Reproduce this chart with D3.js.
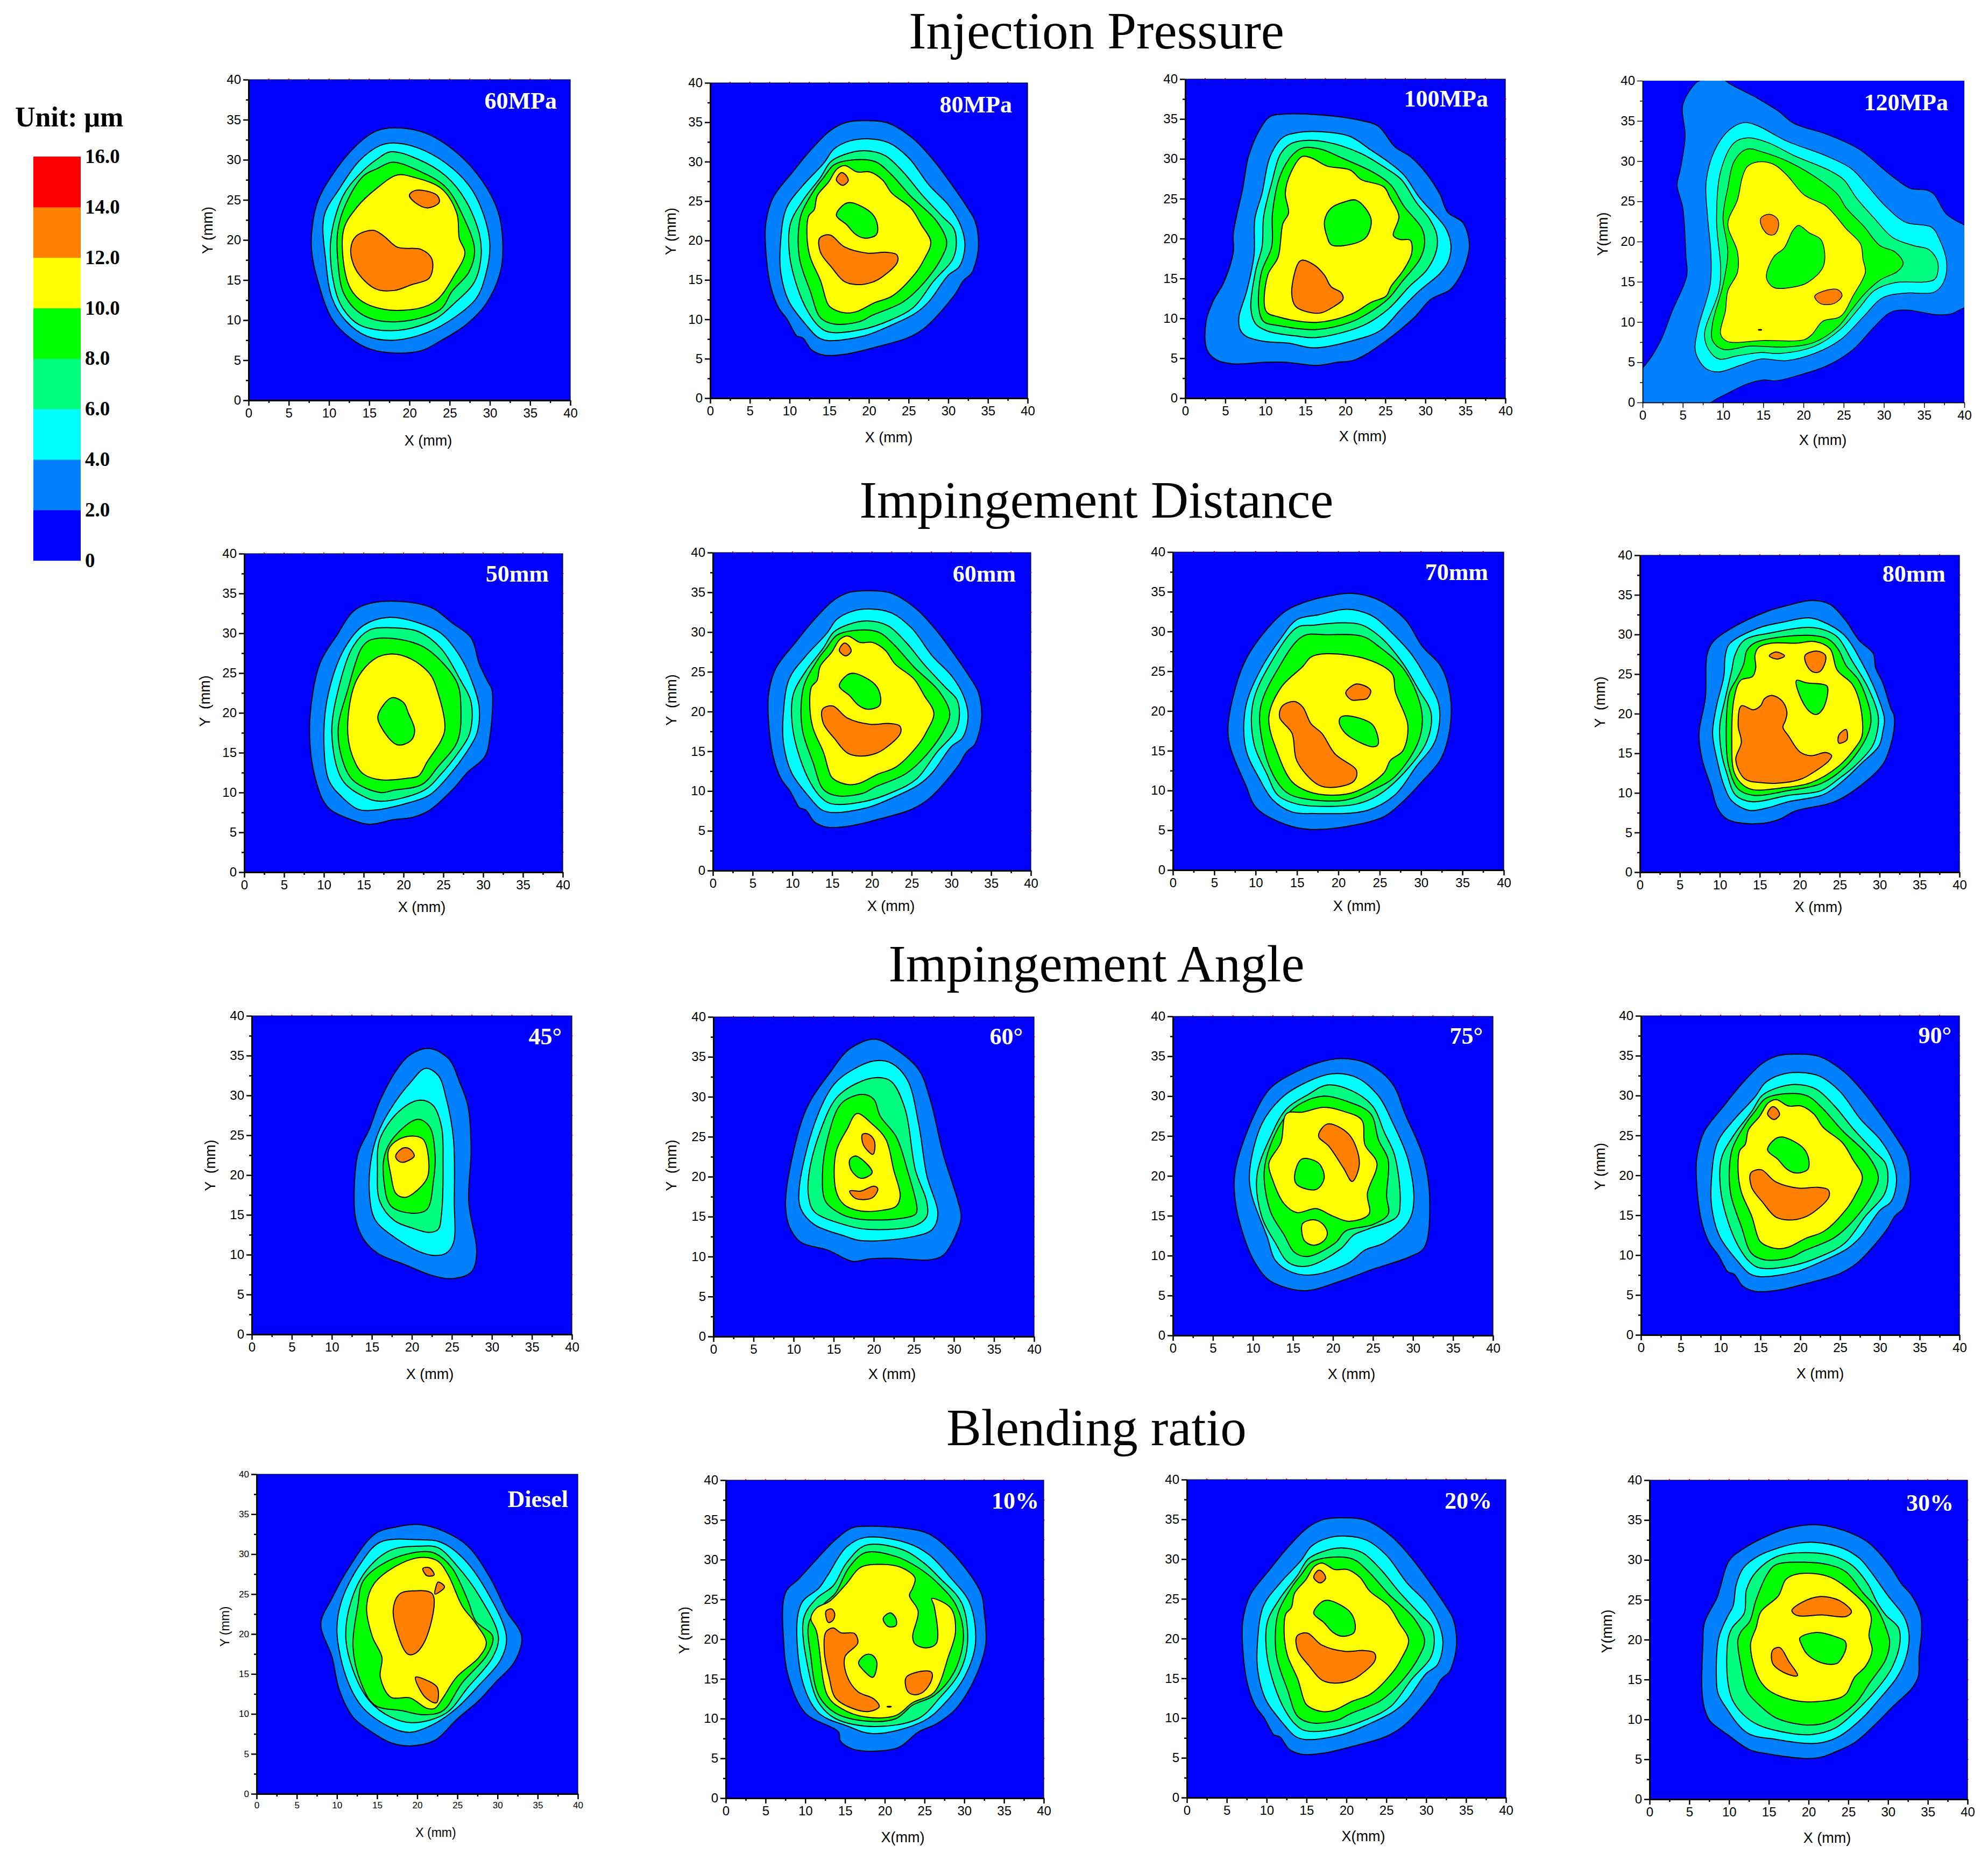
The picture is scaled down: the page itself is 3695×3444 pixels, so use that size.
<!DOCTYPE html>
<html><head><meta charset="utf-8">
<script src="https://cdn.jsdelivr.net/npm/d3@7/dist/d3.min.js"></script>
<style>html,body{margin:0;background:#fff}svg{display:block}text{white-space:pre}</style></head>
<body><div id="c"></div>
<script>
// ---------- Legend scale ----------
const legendLevels=[0,2,4,6,8,10,12,14,16];
const legendLabels=["0","2.0","4.0","6.0","8.0","10.0","12.0","14.0","16.0"];
const bandColors=["#0000ff","#0080ff","#00ffff","#00ff80","#00ff00","#ffff00","#ff8000","#ff0000"];
const groupTitles=["Injection Pressure","Impingement Distance","Impingement Angle","Blending ratio"];
const majorTicks=[0,5,10,15,20,25,30,35,40];
const minorTicks=[2.5,7.5,12.5,17.5,22.5,27.5,32.5,37.5];

// ---------- Contours: [level in µm, [[x mm, y mm], ...]] ----------
const c60MPa=[
[2,[[18.3,34],[22.3,33.2],[26.1,30.7],[29.1,27.3],[31,23.6],[31.6,19.8],[31.3,16],[29.5,12],[27,9.4],[24,7.5],[21.5,6.2],[18.1,5.9],[15.1,6.4],[12.6,7.8],[10.4,10.1],[8.7,14.6],[7.8,19.3],[8.5,24.5],[10.2,27.8],[13.4,31.8],[15.9,33.6]]],
[4,[[18.1,32.1],[21,31.5],[24.5,29.6],[27.4,26.8],[29.1,23.5],[30,19.3],[29.3,15],[28.3,12.7],[25.7,10.4],[22.3,8.5],[18.1,7.5],[14.7,8],[12.1,9.9],[10.4,12.7],[9.6,17.4],[9.4,23],[11.3,26.4],[13.8,29.9],[16.4,31.8]]],
[6,[[17.7,31],[21,30.1],[24.5,28],[27,24.9],[28.7,20.7],[28.9,17.9],[28.1,14.8],[25.7,12.2],[22.8,9.9],[18.1,8.7],[13.8,9.4],[11.7,11.5],[10.7,14.1],[10.2,19.8],[11.7,25.4],[13.8,28.2],[16,30.1]]],
[8,[[17.9,29.7],[21,28.7],[24.5,26.6],[26.6,23.1],[28.1,18.8],[27.4,16],[25.3,13.6],[23.8,11.3],[18.5,9.8],[14.3,10.6],[11.9,13.2],[11.1,17.4],[11.1,21.2],[12.1,24.5],[14.3,28],[16,28.9]]],
[10,[[18.5,28.1],[20.6,27.8],[24,26.4],[25.9,23.3],[26.2,20.2],[26.9,18.4],[25.7,15.8],[23,12.2],[18.5,11.2],[14.7,12],[13,13.4],[12.1,15.5],[11.8,21.2],[13.4,24],[16,26.5]]],
[12,[[12.7,18.8],[13.4,20.5],[15.5,21.2],[16.8,20.5],[18.5,19.1],[21.5,18.8],[22.8,17.6],[22.5,15.3],[20.2,14.4],[18.1,13.7],[15.8,13.9],[13.4,16.2]]],
[12,[[20,25.6],[20.8,26.2],[23.4,25.6],[23.7,24.7],[22.3,24],[20.8,24.6]]]];

const c80MPa=[
[2,[[19.4,35.2],[22.4,34.9],[25.6,32.9],[28.2,30.1],[30.5,27],[32.4,24.2],[33.4,22.4],[33.8,19.2],[33.2,16.4],[32.9,15.8],[31.9,14.9],[30.8,13.1],[27.2,9.05],[25,7.7],[21,6.5],[17.2,5.6],[14.4,5.45],[12.8,6.1],[11.7,7.6],[10.9,7.9],[10.4,8.7],[9.7,10],[8.6,11.5],[7.6,14.3],[7,18.9],[7,22.1],[7.9,25.4],[10.4,28.7],[12.6,31.4],[15.2,34],[17.2,35]]],
[4,[[19.9,32.9],[22.5,32.4],[25,30.5],[27.6,27],[30.1,24.4],[31.6,21.8],[32.1,19.3],[31.4,16.7],[30,15.6],[27.6,12.3],[25.9,10.8],[22.7,9.2],[19.4,7.9],[14.9,7.3],[13.6,7.7],[12,9.4],[9.9,12.3],[8.9,15.9],[8.85,19.5],[9.6,24.1],[11.7,27],[14.3,29.8],[15.6,31.6],[17.5,32.6]]],
[6,[[19.4,31.4],[22,30.8],[24.3,28.7],[26.6,25.9],[29.2,23.1],[30.7,21.5],[31,19.3],[30.5,17.5],[28.2,14.9],[25.6,11.5],[22.7,9.9],[19.1,8.7],[14.9,8.4],[13.6,9.2],[12.3,11],[11,14],[10,18.2],[10.1,22.1],[11.7,25.1],[13.9,28],[15.2,30],[16.9,30.9]]],
[8,[[17.8,30.2],[20.8,30],[22.7,28.5],[25.3,25.6],[28.5,22.5],[29.8,19.8],[29.2,17.9],[26.9,14.6],[24.3,12.2],[20.4,10.5],[18.8,9.7],[15.6,9.4],[13.9,10.2],[12.6,13.6],[11.3,17.5],[11.1,20.8],[11.5,23.4],[13.3,26.7],[14.3,28],[15.6,29.6]]],
[10,[[17,29.5],[18.5,28.7],[20.1,28.7],[21.7,27.7],[22.9,26],[25.3,24.1],[26.6,22],[27.8,19.8],[26.9,17.5],[25.9,15.9],[23,13],[20.7,12.1],[18.5,11],[17.2,10.8],[15.7,11.2],[14.9,11.8],[13.9,14.9],[12.6,17.9],[12.2,20.5],[12.4,23.1],[13.1,23.9],[13.5,25.7],[14.9,27.4],[16,29.1]]],
[8,[[15.9,23.2],[16.9,24.6],[17.8,24.8],[20.4,23.4],[21.1,21.8],[20.9,20.7],[19.4,20.3],[18.3,20.8],[17.2,22]]],
[12,[[13.8,20.3],[15.1,20.7],[16.9,19.2],[19.8,18.4],[22.2,18.5],[23.5,18.2],[23.6,17.3],[21.7,15.4],[20.4,14.7],[18.5,14.4],[16.9,14.8],[15.3,16.6],[13.9,18.5]]],
[12,[[15.9,27.7],[16.5,28.6],[17,28.4],[17.4,27.6],[16.7,27]]]];

const c100MPa=[
[2,[[12.2,35.6],[17,35.5],[21.5,34.9],[24.1,34.1],[26.2,31.5],[28.1,30.3],[30.1,28.2],[31.8,25.6],[32.8,23.3],[34.7,22],[35.5,19.3],[35.2,17.4],[34.4,15.4],[33.1,13.6],[30.7,12.4],[28.6,10.1],[25.1,7.2],[21.2,4.8],[19,4.5],[16.4,4.1],[12.5,4.5],[10,4.5],[6.1,4.3],[3.9,4.8],[2.7,6.1],[2.6,9.6],[3.5,12.2],[4.8,14.5],[6,18.3],[6,20.6],[7.2,26.4],[7.9,30.3],[9.5,34],[10.6,35.3]]],
[4,[[17,33.4],[20.6,32.8],[23.2,31.1],[25.4,29.6],[27.3,28],[29.3,25.1],[31.2,23],[32.6,21.2],[33.2,19.1],[32.8,17],[31.8,15.6],[29.3,13.5],[27,11.2],[24.4,8.5],[20.9,7.2],[16.1,6.3],[12.9,6.9],[10,7.1],[7.7,7.7],[6.9,8.5],[6.7,10.1],[7.7,13.5],[8.6,18],[8.7,22.5],[9.6,25.7],[10.6,30.3],[12.2,32.7],[14.1,33.3]]],
[6,[[14.8,32.3],[17.7,32.1],[21.9,30.7],[25.1,28.8],[27,27.4],[28.9,24.5],[30.5,22.5],[31.4,20.6],[31.4,18.6],[30.2,16.1],[28,14],[25.4,11.2],[22.2,9.1],[16.4,7.6],[13.8,7.8],[10.3,8.4],[8.8,9.3],[8.2,11.2],[8.8,16],[9.6,19],[9.8,22.8],[10.8,27],[11.9,30.6],[13.2,31.9]]],
[8,[[14.8,31.4],[17,31.2],[19.6,30.1],[23.5,28.3],[25.7,26.7],[27.3,24.1],[29.6,21.2],[29.9,19.3],[29.3,17.4],[27,14.5],[25.4,12.5],[22.8,10.6],[20.6,9.5],[16.4,8.6],[11.6,9.1],[9.8,9.6],[9.2,11.2],[9.5,15.7],[10.8,19],[10.9,23.2],[11.9,28],[13.5,30.6]]],
[10,[[14.6,30.3],[15.8,30.1],[17.7,29.1],[20.6,28.6],[22,27.4],[24.8,26.5],[25.6,25.1],[26.7,22.8],[26,20.4],[26.8,19.9],[28.1,19.8],[28.3,18.2],[27.3,16.1],[25.7,14],[25.1,12.8],[23.2,12],[20.9,10.6],[16.4,9.5],[11.6,10.2],[10.1,10.9],[10.3,15.4],[11.6,17.7],[12.2,21.9],[12.9,23.2],[12.5,25.7],[13.2,28.3]]],
[8,[[17.4,22.2],[18.2,23.8],[19.9,24.6],[21.4,24.8],[23.2,22.5],[22.7,20.3],[21.5,19.5],[18.3,19.2],[17.7,20.3]]],
[12,[[14.1,16.9],[14.6,17.3],[16.1,16.7],[17.4,15.4],[18.2,14],[19.5,13.2],[19.7,12.4],[18.6,11.5],[17,10.7],[15.8,10.7],[13.8,11.5],[13.3,13.2]]]];

const c120MPa=[
[2,[[0,4.3],[2.1,7.4],[3.7,11.4],[5.5,15.8],[5.4,18.1],[5,24.2],[4.3,27],[4.7,29],[5.3,33.1],[5,37],[6.6,39.7],[7.4,40.2],[8,41.5],[9.5,41.5],[10.1,40.2],[14.3,37.8],[16.9,36.2],[18.8,34.7],[23,33.3],[26.9,31.5],[30.8,28.3],[33.3,26.6],[35.3,26.4],[36.2,25.9],[37.8,23.4],[40.1,22],[42,21],[42,12],[40.1,11.8],[38.3,11],[36.6,10.9],[32.7,11.5],[30.8,11.2],[28.8,9.4],[26.2,6.6],[23,4.6],[19.8,3.5],[16.6,2.7],[15,2.8],[13,2.3],[10.5,1.1],[8.4,-0.1],[7,-2],[-2,-2],[-2,3]]],
[4,[[12.7,34.8],[14.3,34.4],[17.9,32.5],[22.7,30.7],[25.9,29.1],[27.9,27],[30.1,24.5],[32.7,22.4],[35.9,21.8],[36.9,20.3],[37.8,17.4],[37.4,14.9],[36.2,13.7],[32.7,13.6],[29.8,13],[27.5,10.7],[24.6,7.8],[21.4,6.1],[17.9,5.2],[14.7,5.4],[12.1,4.6],[9.5,3.8],[7.9,4.2],[6.6,6.2],[6.8,8.8],[8.4,14.6],[8.5,18.4],[8.1,22.9],[7.9,27.4],[8.9,31.2],[10.8,33.9]]],
[6,[[13,32.9],[15.6,32.3],[18.8,30.7],[23.3,28.8],[25,27.7],[26.6,25.4],[28.8,22.9],[31.1,20.5],[33.7,19.5],[35.6,19],[36.7,17.4],[36.4,15.4],[35.3,15],[31.4,14.9],[28.8,13.9],[26.9,11.7],[24.6,9.1],[21.4,7],[17.2,6.1],[14.7,6.2],[11.8,5.8],[9.5,5.4],[8.2,6.6],[7.7,8.5],[9.5,13.9],[9.7,16.8],[9.2,22.6],[9.7,28.7],[11.4,32.3]]],
[8,[[13,31.5],[15,31.1],[18.2,29.9],[22.4,27.4],[24.3,25.8],[25.3,24.2],[27.5,21.9],[29.5,19.5],[31.4,18.7],[32.4,17.3],[31.7,16.3],[29.5,15.2],[27.5,13.4],[25.9,11.4],[24.3,9.4],[21.4,7.5],[17.9,6.9],[13.4,7],[10,6.6],[8.7,7.7],[8.7,9.8],[10,14.6],[10.6,18.7],[10,22.9],[10.6,26.7],[11.4,30]]],
[10,[[14.3,29.9],[16.3,29.6],[17.9,28.3],[20.1,25.8],[22.7,24.5],[24,23.2],[25.3,21.6],[27.1,19.7],[27.4,17.8],[27.7,16.2],[26.2,13.3],[24.6,10.7],[22.4,10.1],[21.1,8.5],[20.1,7.8],[15,7.7],[10.5,7.6],[9.7,8.5],[10.3,11.4],[10.6,13.9],[11.8,16.2],[11.8,18.7],[10.6,22.2],[11.8,25.2],[12.4,28],[13,29.3]]],
[8,[[19.4,22],[20.7,21.1],[22.2,20.2],[22.5,17],[20.5,14.9],[18.5,14.3],[16.3,14.3],[15.4,15.5],[16.3,18.1],[17.6,19.2],[18.7,21.4]]],
[12,[[14.7,22.9],[15.7,23.4],[16.7,22.9],[16.9,21.9],[16.4,20.9],[15.6,20.9],[14.8,21.9]]],
[12,[[21.4,13.2],[22.7,13.9],[24.3,14],[24.8,13.3],[23.8,12.3],[22.1,12.3]]],
[12,[[14.4,9.05],[14.8,9.05],[14.8,9],[14.4,9]]]];

const c50mm=[
[2,[[17.4,34],[23.3,33.3],[26.1,31.3],[28.5,29.4],[29.5,26.2],[30.6,23.9],[31.1,22.9],[30.9,17.4],[30.2,14.5],[28.1,12.6],[26.1,10.3],[23.3,7.8],[21.2,6.9],[18.8,6.6],[15.7,6],[13.7,6.5],[10.9,7.8],[9.9,9],[8.8,12.3],[8.3,15.5],[8.3,20],[9.5,26.2],[11.6,29.7],[14,33]]],
[4,[[18.1,32],[21.9,31.3],[24.7,30],[27.1,27.1],[28.5,24.2],[29.5,20.7],[29.2,17.4],[27.8,14.9],[26.1,12.6],[23.3,9.7],[20.6,8.7],[16.4,7.8],[14.3,7.9],[12.3,9.4],[10.6,11.6],[10,17.4],[10.6,22.6],[12.6,28.1],[15,31]]],
[6,[[18.3,30.7],[21.9,30.2],[24.7,28.1],[27.1,24.2],[28.5,21.3],[28.3,17.4],[26.8,14.9],[24.7,12.3],[22.6,10.3],[17.1,8.9],[15,9.5],[12.3,11.6],[11,17.4],[11.9,23.3],[13.7,28.4],[15.7,30.4]]],
[8,[[18.1,29.4],[22.3,28.4],[25,26.2],[26.8,23.6],[27.2,20.7],[26.8,16.5],[24.3,13.2],[22.3,11],[18.8,10.3],[17.1,10],[13.7,11.5],[12.3,14.2],[11.8,18.1],[13,22.9],[14.7,28.1],[15.7,29.1]]],
[10,[[18.5,27.4],[20.9,26.8],[23.3,24.9],[24.3,22.6],[25.2,18.1],[24.7,16.5],[23,13.9],[21.9,12.1],[20.6,11.8],[17.1,11.6],[15,12.3],[14,13.6],[13,17.4],[14,23.9],[16.4,26.8]]],
[8,[[18.5,21.9],[20,21.3],[20.6,20],[21.4,17.8],[20.9,16.5],[19.2,16],[17.1,18.4],[16.8,19.7]]]];

const c70mm=[
[2,[[21.6,34.8],[24.8,34],[28.1,31.5],[30.1,28.2],[32.4,25.6],[33.5,22.1],[33.5,17.9],[32.4,14],[30.1,11.1],[27.5,8.3],[25.5,6.7],[22.2,5.7],[16.7,5.1],[13.7,5.7],[10.1,7.8],[8.8,10.7],[6.9,15.6],[6.7,18.5],[8.2,25],[9.8,28.2],[13.4,32.4],[15.7,33.6],[19,34.5]]],
[4,[[21.2,32.8],[24.2,31.9],[26.5,29.8],[28.8,27.2],[30.7,24],[32.2,20.5],[31.7,16.2],[29.4,13],[26.8,9.4],[23.5,7.5],[17,7.1],[14.4,7.3],[12.1,8.8],[10.5,11.4],[8.8,15.3],[8.8,20.5],[10.5,25],[13.1,29.2],[15,31.5],[17.6,32.1]]],
[6,[[20.6,31.1],[22.9,30.8],[25.2,29.2],[27.8,26],[29.7,22.7],[31.2,19.8],[30.7,16.2],[28.1,12.4],[24.8,9.4],[22.2,8.3],[18.3,8],[15,8.3],[12.7,9.4],[11.4,12],[9.8,15.9],[9.7,21.1],[11.8,26],[15,30.5],[17,30.8]]],
[8,[[18.6,29.6],[22.9,29.4],[24.8,28.2],[28.1,25],[30.1,19.8],[29.7,16.2],[26.8,11.7],[24.2,10.1],[20.9,8.8],[15.7,9],[13.7,9.8],[12.1,12],[10.8,16.2],[10.6,20.5],[12.7,25.3],[15.7,29.4]]],
[10,[[18.6,27.2],[23.5,26.5],[26.5,24.7],[26.9,22.4],[28.4,18.2],[27.8,15],[26.3,13.8],[25.5,12.2],[22.2,9.9],[19.3,9.4],[16.3,9.9],[14.4,11.1],[12.7,14.6],[11.6,19.2],[13.1,23],[15.7,25.6],[16.7,26.8]]],
[12,[[14.7,21.2],[15.7,20.5],[16.7,18.4],[18,17.2],[19.6,14.6],[22.2,12.5],[21.9,11.2],[19.6,10.4],[17.6,10.7],[15,13.7],[14.4,17.2],[12.9,19.2],[13.2,20.6]]],
[12,[[20.9,22.3],[22.2,23.4],[23.9,22.6],[23.5,21.6],[22.5,21.4],[21.6,21.4]]],
[8,[[20.4,19.3],[22.2,19.2],[24.2,18.2],[24.8,15.8],[24.2,15.5],[21.6,16.6],[20.6,17.5],[20.1,18.7]]]];

const c80mm=[
[2,[[21.5,34.3],[23.8,33.8],[25.8,31.7],[27.4,29.3],[29.2,27.6],[29.5,25.8],[30.4,23.9],[31.4,20.7],[31.8,19.8],[31.8,18],[31.1,15.1],[30.4,13.6],[28.1,11.3],[24.4,8.9],[19.4,7.7],[17.3,6.6],[14,6.1],[10.9,6.7],[9.7,8.1],[8.9,10.8],[7.8,14.2],[7.4,17.5],[8.2,22],[8.4,27.4],[9.1,29],[11.5,30.8],[15.9,32.9],[18.6,33.7]]],
[4,[[21.1,32.1],[22.7,31.7],[25.5,30],[27.7,26.6],[29.6,22.6],[30.6,19.4],[30.4,17.7],[29.9,15.9],[27.7,13.7],[25.5,11.6],[23,9.8],[18.6,8.9],[15.9,8.1],[13.7,7.8],[11.5,9],[10.5,11],[9.7,14],[9.1,17.5],[9.6,21],[10.5,24.7],[10.7,27.4],[11.2,28.8],[14.8,30.8],[18.1,31.6]]],
[6,[[21.1,30.9],[23.3,30.5],[24.8,29.6],[26.6,26.6],[28.5,23.4],[29.8,19.9],[29.8,18.3],[29.1,15.9],[26.9,13.4],[24.9,11.8],[22.7,10.3],[18.6,9.7],[14,8.9],[12,9.7],[10.9,12.4],[10.2,15.1],[10,18.5],[10.7,22],[11.5,25.5],[11.9,27.4],[13.1,29.3],[16.4,30.2]]],
[8,[[21.1,29.9],[23.6,29.4],[24.9,28],[25.8,26.1],[27.4,24.2],[28.8,20.4],[28.9,18.8],[28.2,16.7],[25.8,13.4],[22.7,11.2],[18.6,10.3],[14.2,9.7],[12.3,10.5],[11.1,13.4],[10.8,18],[11.2,22.6],[12.3,24.7],[13,26.3],[13.4,28],[14.5,29]]],
[10,[[16.4,28.9],[19.5,28.9],[21.9,29.1],[23.8,28.2],[24.7,25.5],[26.6,23.7],[27.6,21],[27.8,17.2],[27.1,15.9],[24.9,13.4],[21.4,11.3],[17.5,10.6],[14.2,10.4],[12.9,11],[11.8,12.6],[11.5,16.7],[11.8,22],[12.6,24.2],[14.1,24.7],[14.5,25.8],[14.4,27.4],[14.9,28.4]]],
[12,[[12.7,21],[14.2,20.5],[15.1,21],[15.6,21.9],[16.6,22.3],[17.8,21.6],[18.4,20.2],[18.2,19.1],[17.9,18.3],[18.6,17.2],[20,15.2],[21.4,14.7],[23.3,15.1],[24,14.7],[23.6,14],[21.4,12.4],[20.3,11.8],[18.1,11.3],[15.1,11.3],[13.1,11.8],[12,14.2],[12.7,16.4],[12.3,18.5]]],
[12,[[16.2,27.3],[17,27.8],[18.1,27.3],[17.2,26.9]]],
[12,[[20.7,27.4],[22.2,27.9],[23.2,27.4],[23.2,26.5],[22.5,25.3],[21.6,25.3],[20.8,26.3]]],
[12,[[24.9,17.3],[25.8,18],[25.9,16.7],[24.9,16.3]]],
[8,[[19.6,24.2],[20.8,23.9],[23.4,23.5],[23.5,22.6],[22.9,20.6],[22.1,19.9],[21.2,20.3],[20,22.3]]]];

const c45deg=[
[2,[[22.2,35.9],[24.6,34.6],[26,31.6],[27,28.7],[27.4,23.2],[27.1,16.7],[28.1,10.2],[27.4,7.8],[25,7],[22.2,7.5],[19.5,8.6],[15.7,10.2],[14,11.9],[13,14.4],[12.8,18],[13.3,22.8],[14.7,25.8],[16,29.3],[18.1,33.2],[19.8,35.1]]],
[4,[[21.7,33.4],[23.3,32.5],[24.3,29.6],[25.2,24.5],[25.3,16.7],[25.2,11.5],[24.3,10.2],[22.9,9.9],[20.9,10.4],[17.4,12.5],[15.4,14.4],[14.7,17.7],[15,22.5],[16,25.8],[17.8,29],[19.8,31.6]]],
[6,[[20.9,29.4],[22.6,28.8],[23.7,26.1],[23.9,21.6],[23.7,15.1],[23.3,13.2],[22.2,12.8],[20.2,13.3],[17.8,14.3],[16,16.7],[15.7,20.6],[16,24.5],[18.4,28]]],
[8,[[20.7,27],[22.2,26.1],[22.9,22.5],[22.7,19.3],[21.9,15.7],[20.2,15.2],[17.4,16.1],[16.5,19.3],[16.6,22.5],[17.8,24.8]]],
[10,[[20.2,24.9],[21.4,24.5],[22.1,21.9],[21.9,19.6],[20.2,17.7],[19.1,17.2],[18,17.7],[17.4,19.9],[17.1,23.2],[18.4,24.5]]],
[12,[[18,22.5],[18.9,23.4],[19.7,23.3],[20.3,22.4],[18.8,21.6],[18.1,22]]]];

const c60deg=[
[2,[[20.1,37.2],[22.5,36.1],[25.6,33.4],[27,29.8],[28.7,22.7],[30.4,17.3],[30.9,15],[30.4,13.1],[28.7,10.2],[27,9.6],[22.2,9.8],[19.4,9.7],[17.4,9.4],[14.3,10.8],[10.9,11.8],[9.5,13.7],[9,16.3],[9.5,20.8],[11.6,28.5],[14.6,33.1],[17,36]]],
[4,[[20.1,34.5],[22.2,34.2],[24.2,32.1],[25.6,26.6],[26.6,20.2],[28,15.3],[27.3,13.4],[24.9,12.5],[18.4,12],[16.3,12.6],[12.6,14],[10.9,16],[10.7,18.5],[12.6,26.6],[15,31.5],[17.4,33.4]]],
[6,[[20.5,32.4],[22.2,31.9],[23.9,28.5],[25.2,20.8],[26.6,16.9],[26.6,15],[25.2,13.9],[19.4,13.4],[16.3,14],[12.6,15.6],[11.9,17.3],[11.9,20.2],[13.3,25.6],[15.3,29.8],[17.7,31.6]]],
[8,[[18.6,30.3],[20,29.7],[20.8,27.6],[22.8,25],[24.2,20.8],[25.4,16],[25.2,15.3],[22.8,14.7],[18.1,14.7],[16,15.3],[14,16.9],[13.6,20.2],[14.3,25],[16,29.2]]],
[10,[[17.9,27.9],[19.8,26.6],[21.5,24.7],[22.5,20.8],[23.3,17.6],[22.8,16.3],[21.1,15.8],[18.4,15.7],[16.3,16.5],[15.3,18.2],[15.3,23.1],[16.7,26]]],
[12,[[18.6,25.3],[19.4,25.3],[20.1,24.4],[19.9,22.8],[18.7,24]]],
[8,[[17,22.1],[17.7,22.6],[18.6,22.1],[19.8,20.5],[18.4,19.8],[17.2,20.8]]],
[12,[[17,18.2],[18.4,18.2],[20,18.8],[20.5,18.5],[20.1,17.6],[19.4,17.2],[17.7,17.3]]]];

const c75deg=[
[2,[[20.9,34.7],[24.3,34.1],[27.4,31.6],[29,27.8],[31.4,22],[32.1,16.2],[31.4,11],[29.7,9.9],[25,8.3],[20.9,6.8],[16.6,5.6],[13.5,6.2],[11.8,7.1],[10.1,9.4],[8.8,12.6],[7.8,16.8],[7.8,20.7],[10.1,27.5],[12.2,31],[15.5,33.1],[18.2,34.2]]],
[4,[[19.9,32.8],[23,32.3],[25.7,30],[27.4,26.8],[29.4,22],[30.1,16.8],[29.4,14.2],[26.4,11.6],[24,10.7],[22,9.1],[17.6,7.6],[14.9,7.9],[12.8,9.4],[11.8,12.3],[9.8,17.8],[9.6,20.7],[11.1,26.5],[13.5,29.7],[16.2,31.5]]],
[6,[[19.3,31.4],[22.3,30.7],[25,28.7],[26.4,25.5],[27.7,22.6],[28.4,16.8],[28,14.9],[24.3,13.3],[22.6,12.6],[20.9,10.8],[16.9,8.7],[14.5,9.1],[12.8,11.6],[11.1,14.9],[10.5,20],[12.2,24.9],[14.2,28.4],[16.9,30.2]]],
[8,[[18.9,30],[21.6,29.4],[24.7,27.8],[25.7,24.5],[26.9,22],[26.7,17.5],[26.9,15.2],[25,13.9],[21.6,13.1],[20.3,11.6],[16.9,9.9],[15.2,10.4],[13.9,12.6],[12.2,15.5],[11.4,20.4],[12.2,23.9],[14.2,27.6],[16.2,29.2]]],
[10,[[18.9,28.6],[21.3,28.1],[23.6,27],[24,23.9],[25.5,21.6],[24.3,17.8],[24.5,15.2],[22,14.3],[19.9,15],[17.9,15.9],[15.5,15.4],[13.9,16.5],[12.5,19.4],[12,21.6],[13.5,24.2],[14.2,27.8],[16.2,28]]],
[10,[[16.2,14],[17.5,14.5],[18.7,14],[19.3,12.8],[18.8,11.8],[17.6,11.3],[16.5,11.8],[16.1,13]]],
[8,[[16.1,22.1],[18.2,21.6],[18.9,19.7],[17.9,18.3],[15.5,18.9],[15.2,20]]],
[12,[[19.3,26.5],[22,25.2],[23.3,21.6],[22.4,19.3],[21.3,21],[19.5,23.7],[18.2,25]]]];

const cDiesel=[
[2,[[20.2,33.7],[23.2,32.9],[26.3,31],[29.1,27],[31.1,22.9],[33,19.7],[32.1,16.5],[29.7,13.9],[27.7,11.7],[24.9,9.3],[22.2,6.7],[19.1,6],[16.7,6.4],[14.7,7.5],[12,9.6],[10.3,13],[9.4,17.1],[8,21.3],[9.4,24.5],[11.3,28],[14.7,32.5],[17.4,33.4]]],
[4,[[20.2,31.8],[22.9,31.5],[25.6,29.6],[28.4,25.8],[31.1,19.7],[30.4,16.8],[27.7,13.6],[24.9,10.7],[22.2,8.8],[19.1,7.7],[16.7,8.3],[13.3,10.7],[11.3,14.2],[10,20.3],[10.6,24.2],[13,28.9],[15.4,31.5]]],
[6,[[20.5,31],[22.6,30.8],[24.9,28.6],[27.7,24.8],[30.1,19.7],[29.4,17.1],[26.3,13.3],[23.6,10.1],[19.5,8.9],[16.7,9.6],[14,11.7],[12,15.5],[11.1,19.7],[11.8,24.2],[13.7,28],[16.7,30.5]]],
[8,[[20.5,30.3],[22.2,30.1],[24.3,28.3],[26.3,24.2],[27.3,21.6],[29.4,19.7],[28.7,17.4],[25.6,13.9],[23.2,10.4],[20.8,9.9],[18.1,10.4],[14.7,11.1],[13,13.9],[12,18.4],[12.6,23.5],[13.3,26.7],[16.7,29.3]]],
[10,[[20.8,29.6],[22.6,29.1],[23.9,27.3],[25.6,23.5],[27.3,21.3],[28.6,18.9],[27.7,17.1],[24.9,14.6],[23.2,12],[22.2,10.7],[21.2,10.7],[19.1,12],[16.7,12.1],[15.4,14.6],[15.6,17.1],[14.4,19.7],[13.7,23.5],[14.7,26.4],[18.1,28.9]]],
[12,[[17.8,25],[19.5,25.4],[21.9,25],[21.2,19.7],[19.8,17.6],[18.8,17.5],[17,22.9]]],
[12,[[20.7,28.2],[21.5,28.3],[22.1,27.4],[21.2,27.3]]],
[12,[[22.6,26.5],[23.4,25.9],[22.2,25],[22.3,25.8]]],
[12,[[19.8,14.6],[21.2,14.2],[22.5,13.3],[22.4,11.4],[21.2,11.9],[20.3,13.1]]]];

const c10pct=[
[2,[[17.6,34.2],[22.8,33.9],[25.6,33.2],[29,30.3],[32.1,25.8],[32.5,23.5],[32.7,19.4],[31.4,15.2],[29,11.3],[26.6,9.4],[24.2,8.3],[21.8,6.4],[18.6,5.9],[15.9,6.2],[14.4,7.2],[14.2,8.3],[10,10.7],[7.9,15.2],[7.3,19.4],[7.5,25.8],[9.3,27.7],[13.8,32.5],[15.9,34]]],
[4,[[17.6,32.8],[22.8,32.1],[25.6,30.6],[28.3,27.7],[30.7,24.5],[31.4,19.4],[30,15.2],[27.6,12],[24.9,9.7],[18.6,8.1],[15.2,9.1],[11.7,10.7],[9.7,14.5],[9,22.6],[9.7,24.8],[11.7,26.4],[12.8,28],[15.2,31.6]]],
[6,[[17.6,31.8],[22.1,31.3],[24.9,29.6],[26.9,27.7],[29.7,24.5],[30.4,19.4],[29.4,15.8],[26.9,12.6],[24.2,10],[18.6,9],[13.8,10],[11.7,12],[10.4,16.1],[9.8,22.6],[11.4,25.1],[13.5,26.7],[15.2,29.6]]],
[8,[[17.6,30.9],[21.4,30.4],[24.2,29],[26.6,27.1],[29,24.2],[29.9,20.3],[28.7,15.8],[26.2,12.9],[23.5,11.7],[21.4,10],[17.6,9.7],[13.8,10.7],[11.7,12.9],[10.7,17.8],[10.5,22.2],[12.4,24.5],[13.8,25.8],[15.5,29]]],
[10,[[19.3,29.4],[22.1,29],[23.8,27.7],[23.5,26.4],[23.1,25.5],[24.2,23.5],[23.5,20.3],[23.8,19.4],[25.2,18.9],[26.5,19.5],[26.2,24.2],[25.9,25.1],[28.3,23.9],[28.9,21],[28,17.8],[26.2,13.3],[23.5,12],[21.4,10.4],[17.6,10.2],[14.5,11.3],[12.8,12.9],[11.4,21],[10.7,22.6],[11.4,23.9],[13.1,24.8],[15.2,27],[16.9,29]]],
[12,[[12.6,23.5],[13.3,23.8],[13.7,23.2],[13.5,22.4],[12.9,22.1]]],
[12,[[13.5,21.4],[14.5,20.8],[16.2,20.7],[16.6,19.5],[15,17.8],[15.2,15.5],[16.6,13.4],[18.6,12.5],[19.3,11.5],[18,10.9],[15.9,11.3],[13.8,12.6],[13,15.2],[12.4,18.4],[12.6,20.9]]],
[8,[[19.8,22.6],[20.7,23.3],[21.4,22.6],[21.4,21.7],[20.4,21.6]]],
[8,[[16.7,17],[17.5,18],[18.4,18],[19,17.1],[18.5,15.2],[17.3,16.1]]],
[12,[[22.7,15.2],[25.2,16],[25.9,15.8],[25.9,14.9],[24.9,13.4],[23.8,13],[22.9,13.4]]],
[12,[[20.3,11.52],[20.8,11.52],[20.8,11.48],[20.3,11.48]]]];

const c30pct=[
[2,[[21.1,34.4],[24.4,33.7],[27.5,32.2],[30.2,29.3],[31.7,27],[33,25.5],[34.1,23.1],[34.2,20.7],[33.9,18.1],[33.8,15.4],[33,13.9],[30.8,11.8],[28,9],[25.8,7.1],[23.3,5.9],[21.7,5.3],[19.8,5.1],[14.8,5.7],[12.6,6.2],[9.8,8.1],[7.6,9.8],[6.9,11.4],[6.6,13.5],[6.7,19.4],[6.9,22.1],[8.5,25.3],[8.9,26.6],[10,29.9],[11.8,31.4],[14.8,33],[17.5,34]]],
[4,[[20.9,32.2],[24.2,31.5],[26.4,30.2],[27.7,28.7],[30,25.5],[32,22.9],[32.6,21],[32.6,19.4],[32,17],[31,15.1],[28.6,12.2],[26.9,10.3],[23.9,7.9],[21.7,7.1],[19.8,7],[15.9,7.5],[12.3,8.3],[9.6,11.5],[8.6,13.3],[8.4,15.4],[8.7,20.2],[9.8,22.9],[10.5,24.2],[10.9,26.9],[11.8,29],[13.7,30.5],[16.2,31.5],[18.7,32.1]]],
[6,[[20.3,30.9],[23.1,30.5],[25.5,29.3],[27.5,26.9],[28.6,24.7],[29.7,23.1],[31.3,21.5],[31.5,19.7],[30.5,16.5],[28.6,13.8],[25.8,10.9],[23.3,8.9],[20.3,8.1],[17.5,8.3],[13.7,9.3],[11.8,10.6],[10.4,12.5],[9.8,15.1],[9.9,20.2],[10.4,21.5],[11.9,23.3],[12.2,26.3],[13.4,28.5],[16.2,30.5]]],
[8,[[19.8,29.7],[22.5,29.4],[24.7,28.5],[26.9,25.8],[28.6,23.9],[29.9,21],[30.2,19.7],[29.7,17.5],[27.7,14.6],[25.8,11.9],[22.5,9.7],[19.8,9.3],[15.9,10.2],[13.7,11.9],[12.3,13.5],[11.5,16.7],[11.1,19.9],[11.5,21],[12.6,22.3],[13.4,25],[14.8,28.2],[15.9,29.4]]],
[10,[[20.6,28.3],[22.8,27.8],[24.7,26.6],[27.5,23.9],[27.9,22.6],[27.6,20.5],[28,18.7],[27.2,16.7],[25.8,15.3],[24.8,13.3],[23.9,12.7],[19.8,12.2],[17,12.7],[14.8,13.8],[13.6,15.4],[12.7,19.4],[13.4,21.5],[14,23.5],[16.2,25.5],[17.1,27.5],[18.1,28.1]]],
[12,[[17.9,23.7],[19.2,24.7],[21.4,25.4],[23.9,24.9],[25.4,23.5],[24.7,22.9],[21.7,23.1],[18.7,23],[18,23.4]]],
[8,[[18.9,20.2],[20.9,20.9],[23.6,20.3],[24.6,19.8],[24.7,18.9],[23.7,17.1],[22.8,16.9],[21.1,17.3],[19.8,18.2],[19.1,19.4]]],
[12,[[15.5,18.7],[16.4,19],[17.5,17.3],[18.6,15.5],[17.3,15.7],[15.5,17]]]];

// ---------- Panel content ----------
const panelLabels=["60MPa","80MPa","100MPa","120MPa","50mm","60mm","70mm","80mm","45°","60°","75°","90°","Diesel","10%","20%","30%"];
const panelContours=[c60MPa,c80MPa,c100MPa,c120MPa,c50mm,c80MPa,c70mm,c80mm,c45deg,c60deg,c75deg,c80MPa,cDiesel,c10pct,c80MPa,c30pct];
const xTitles=["X (mm)","X (mm)","X (mm)","X (mm)","X (mm)","X (mm)","X (mm)","X (mm)","X (mm)","X (mm)","X (mm)","X (mm)","X (mm)","X(mm)","X(mm)","X (mm)"];
const yTitles=["Y (mm)","Y (mm)","","Y(mm)","Y  (mm)","Y  (mm)","","Y  (mm)","Y  (mm)","Y  (mm)","","Y (mm)","Y (mm)","Y (mm)","","Y(mm)"];

// ---------- Layout only (pixels) ----------
const frames=[[462,1060,148,744],[1320,1910,154,740],[2203,2798,147,740],[3053,3651,150,748],
[454,1046,1029,1621],[1325,1916,1027,1618],[2180,2795,1026,1617],[3048,3642,1032,1621],
[468,1063,1888,2480],[1326,1922,1890,2484],[2180,2775,1889,2482],[3050,3642,1888,2481],
[477,1074,2740,3334],[1349,1940,2751,3342],[2206,2799,2750,3341],[3066,3657,2751,3344]];
const labelPos=[[1035,202],[1881,209],[2766,198],[3621,205],[1020,1081],[1888,1081],[2766,1078],[3616,1081],
[1044,1941],[1901,1941],[2756,1940],[3627,1939],[1056,2801],[1931,2804],[2773,2804],[3631,2808]];
const xTitlePos=[[796,828],[1652,822],[2533,820],[3388,827],[784,1695],[1656,1693],[2522,1693],[3380,1695],
[799,2563],[1658,2563],[2512,2563],[3383,2562],[810,3414],[1678,3424],[2534,3422],[3396,3425]];
const yTitlePos=[[386,428],[1247,430],null,[2979,435],[381,1303],[1248,1301],null,[2974,1305],
[391,2166],[1248,2166],null,[2974,2168],[418,3023],[1272,3030],null,[2987,3032]];
const titlePos=[[2038,90],[2038,962],[2038,1824],[2038,2686]];
const redRightPanels=[2,4,5,7,8,9,11,13,15];

const W=3695,H=3444;
const SANS='"Liberation Sans",Arial,sans-serif', SERIF='"Liberation Serif","Times New Roman",serif';
const svg=d3.select("#c").append("svg").attr("width",W).attr("height",H).attr("viewBox",`0 0 ${W} ${H}`);
svg.append("rect").attr("width",W).attr("height",H).attr("fill","#fff");

const bandColor=d3.scaleThreshold().domain(legendLevels.slice(1,-1)).range(bandColors);

groupTitles.forEach((t,i)=>svg.append("text").attr("x",titlePos[i][0]).attr("y",titlePos[i][1])
  .attr("text-anchor","middle").attr("font-family",SERIF).attr("font-size",97).attr("fill","#000").text(t));

// Legend
const leg=svg.append("g");
const legY=d3.scaleLinear().domain([0,16]).range([1041.7,291]);
leg.selectAll("rect").data(legendLevels.slice(0,-1)).join("rect")
  .attr("x",62).attr("width",88)
  .attr("y",d=>legY(d+2)).attr("height",d=>legY(d)-legY(d+2)+0.5)
  .attr("fill",d=>bandColor(d));
leg.selectAll("text.l").data(legendLevels).join("text").attr("class","l")
  .attr("x",158).attr("y",d=>legY(d)+12)
  .attr("font-family",SERIF).attr("font-weight","bold").attr("font-size",37).attr("fill","#000")
  .text((d,i)=>legendLabels[i]);
svg.append("text").attr("x",28).attr("y",235).attr("font-family",SERIF).attr("font-weight","bold")
  .attr("font-size",52).attr("fill","#000").text("Unit: μm");

// Panels
const line=d3.line().curve(d3.curveCatmullRomClosed.alpha(0.5));
panelLabels.forEach((lab,i)=>{
  const [x0,x1,yt,yb]=frames[i];
  const x=d3.scaleLinear().domain([0,40]).range([x0,x1]);
  const y=d3.scaleLinear().domain([0,40]).range([yb,yt]);
  const g=svg.append("g");
  const clipId="clip"+i;
  g.append("clipPath").attr("id",clipId).append("rect").attr("x",x0).attr("y",yt).attr("width",x1-x0).attr("height",yb-yt);
  const plot=g.append("g").attr("clip-path",`url(#${clipId})`);
  plot.append("rect").attr("x",x(0)).attr("y",y(40)).attr("width",x(40)-x(0)).attr("height",y(0)-y(40)).attr("fill",bandColor(0));
  plot.selectAll("path").data(panelContours[i]).join("path")
    .attr("d",d=>line(d[1].map(p=>[x(p[0]),y(p[1])])))
    .attr("fill",d=>bandColor(d[0])).attr("stroke","#000").attr("stroke-width",i===3?1.5:2).attr("stroke-linejoin","round");

  // top/right hairline and small red marks
  if(i!==3){
    g.append("path").attr("d",`M${x0},${yt}H${x1}V${yb}`).attr("fill","none").attr("stroke","#000").attr("stroke-width",1.2);
  }
  const redAt=minorTicks.concat(majorTicks.slice(1,-1));
  if(i!==12&&i!==3){
    g.selectAll("line.r").data(redAt).join("line").attr("class","r")
      .attr("x1",d=>x(d)).attr("x2",d=>x(d)).attr("y1",yt-2).attr("y2",yt).attr("stroke","#f00").attr("stroke-width",2);
  }
  if(redRightPanels.includes(i)){
    g.selectAll("line.rr").data(redAt).join("line").attr("class","rr")
      .attr("x1",x1).attr("x2",x1+1.5).attr("y1",d=>y(d)).attr("y2",d=>y(d)).attr("stroke","#f00").attr("stroke-width",2);
  }

  const fs=i===12?17:24;
  const bw=i===3?1.5:3;
  const axisStyle=a=>{
    a.selectAll("path.domain").attr("stroke","#000").attr("stroke-width",bw);
    a.selectAll("line").attr("stroke","#000").attr("stroke-width",bw===3?2.5:1.5);
    a.selectAll("text").attr("font-family",SANS).attr("font-size",fs).attr("fill","#000");
  };
  g.append("g").attr("transform",`translate(0,${yb})`)
    .call(d3.axisBottom(x).tickValues(majorTicks).tickFormat(d3.format("d")).tickSize(10).tickSizeOuter(0).tickPadding(5)).call(axisStyle);
  g.append("g").attr("transform",`translate(0,${yb})`)
    .call(d3.axisBottom(x).tickValues(minorTicks).tickFormat("").tickSize(5).tickSizeOuter(0)).call(axisStyle);
  g.append("g").attr("transform",`translate(${x0},0)`)
    .call(d3.axisLeft(y).tickValues(majorTicks).tickFormat(d3.format("d")).tickSize(10).tickSizeOuter(0).tickPadding(4)).call(axisStyle);
  g.append("g").attr("transform",`translate(${x0},0)`)
    .call(d3.axisLeft(y).tickValues(minorTicks).tickFormat("").tickSize(5).tickSizeOuter(0)).call(axisStyle);

  g.append("text").attr("x",labelPos[i][0]).attr("y",labelPos[i][1]).attr("text-anchor","end")
    .attr("font-family",SERIF).attr("font-weight","bold").attr("font-size",44).attr("fill","#fff").text(lab);
  const ts=i===12?23:27;
  g.append("text").attr("x",xTitlePos[i][0]).attr("y",xTitlePos[i][1]).attr("text-anchor","middle")
    .attr("font-family",SANS).attr("font-size",ts).attr("fill","#000").text(xTitles[i]);
  if(yTitlePos[i]){
    const [tx,ty]=yTitlePos[i];
    g.append("text").attr("transform",`translate(${tx},${ty}) rotate(-90)`).attr("text-anchor","middle").attr("dy","0.35em")
      .attr("font-family",SANS).attr("font-size",ts).attr("fill","#000").text(yTitles[i]);
  }
});
</script></body></html>
